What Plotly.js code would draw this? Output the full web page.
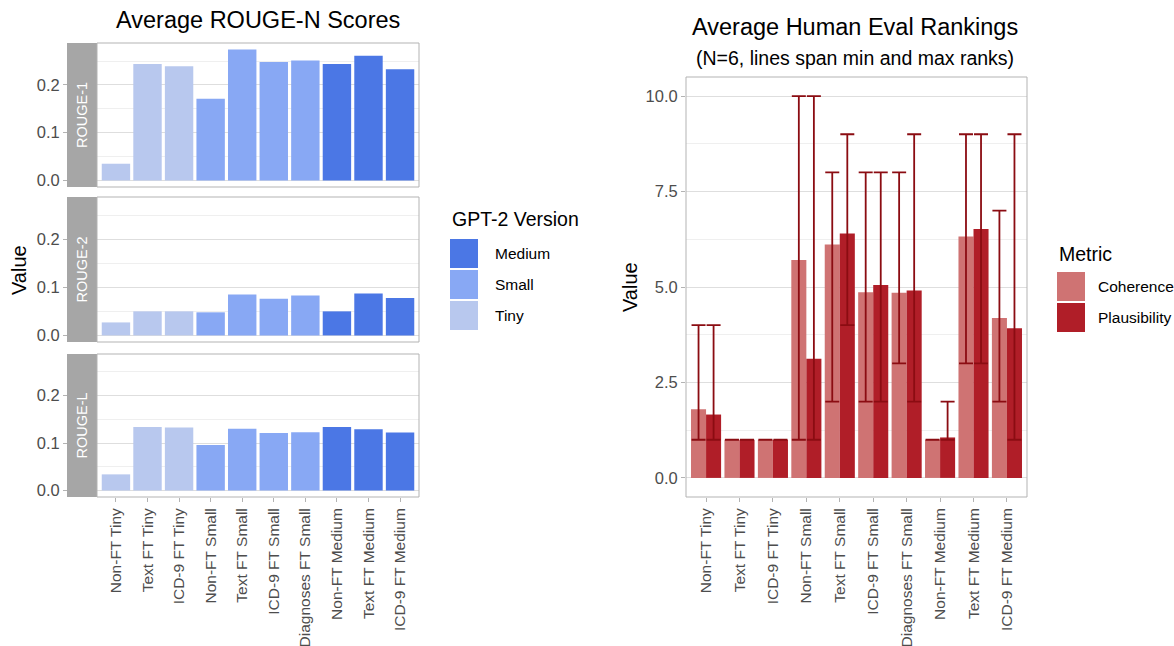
<!DOCTYPE html>
<html>
<head>
<meta charset="utf-8">
<script src="https://cdn.plot.ly/plotly-3.0.1.min.js"></script>
<style>html,body{margin:0;padding:0;background:#fff;}#chart{width:1174px;height:646px;}</style>
</head>
<body>
<div id="chart"></div>
<script>
// ---------------- data ----------------
const categories = ['Non-FT Tiny','Text FT Tiny','ICD-9 FT Tiny','Non-FT Small','Text FT Small','ICD-9 FT Small','Diagnoses FT Small','Non-FT Medium','Text FT Medium','ICD-9 FT Medium'];
const versions = ['Tiny','Tiny','Tiny','Small','Small','Small','Small','Medium','Medium','Medium'];
const versionOrder = ['Medium','Small','Tiny'];
const facetNames = ['ROUGE-1','ROUGE-2','ROUGE-L'];
const rouge1 = [0.035,0.244,0.239,0.171,0.274,0.248,0.251,0.244,0.261,0.233];
const rouge2 = [0.027,0.050,0.050,0.048,0.085,0.076,0.083,0.050,0.087,0.078];
const rougeL = [0.034,0.134,0.133,0.096,0.130,0.121,0.123,0.134,0.129,0.122];

const metrics = ['Coherence','Plausibility'];
const coherence    = [1.80,1.00,1.00,5.71,6.11,4.86,4.85,1.00,6.32,4.19];
const coherenceMin = [1,1,1,1,2,2,3,1,3,2];
const coherenceMax = [4,1,1,10,8,8,8,1,9,7];
const plausibility    = [1.66,1.00,1.00,3.12,6.40,5.05,4.91,1.06,6.52,3.92];
const plausibilityMin = [1,1,1,1,4,2,2,1,3,1];
const plausibilityMax = [4,1,1,10,9,8,9,2,9,9];

// ---------------- styles ----------------
const versionColors = {Tiny:'#b8c8ee', Small:'#88a8f4', Medium:'#4b77e5'};
const metricColors = {Coherence:'#cf7373', Plausibility:'#b01e28'};
const errColor = '#8b0c12';
const W = 1174, H = 646;
const px = x => x / W;
const py = y => 1 - y / H;
const FONT = 'Liberation Sans, Arial, sans-serif';
const tickFont = {family: FONT, size: 16.5, color: '#4d4d4d'};
const xTickFont = {family: FONT, size: 15.5, color: '#4d4d4d'};
const borderColor = '#b3b3b3';
const gridMajor = '#dedede';
const gridMinor = '#efefef';

// left panels pixel geometry
const leftX = [97, 419];
const stripX = [67, 97];
const panelsY = [[43,187],[197,342],[354,497]];
const rightX = [686, 1027];
const rightY = [77, 497];

const rougeSeries = [rouge1, rouge2, rougeL];
const traces = [];
rougeSeries.forEach((vals, i) => {
  traces.push({
    type: 'bar',
    x: categories,
    y: vals,
    xaxis: 'x',
    yaxis: i === 0 ? 'y' : 'y' + (i + 1),
    marker: {color: versions.map(v => versionColors[v]), line: {width: 0}},
    showlegend: false,
    hoverinfo: 'x+y'
  });
});

function errTrace(name, vals, mins, maxs) {
  return {
    type: 'bar', name: name,
    x: categories, y: vals,
    xaxis: 'x4', yaxis: 'y4',
    marker: {color: metricColors[name], line: {width: 0}},
    error_y: {
      type: 'data', symmetric: false,
      array: maxs.map((m, i) => m - vals[i]),
      arrayminus: mins.map((m, i) => vals[i] - m),
      color: errColor, thickness: 1.8, width: 7
    },
    showlegend: false
  };
}
traces.push(errTrace('Coherence', coherence, coherenceMin, coherenceMax));
traces.push(errTrace('Plausibility', plausibility, plausibilityMin, plausibilityMax));

function leftY(i) {
  return {
    domain: [py(panelsY[i][1]), py(panelsY[i][0])],
    range: [-0.0137, 0.2877],
    anchor: 'free', position: px(stripX[0]),
    dtick: 0.1, tick0: 0, tickformat: '.1f',
    ticks: 'outside', ticklen: 4, tickcolor: borderColor, tickwidth: 1,
    tickfont: tickFont,
    showgrid: true, gridcolor: gridMajor, gridwidth: 1,
    minor: {dtick: 0.05, tick0: 0, showgrid: true, gridcolor: gridMinor, gridwidth: 1, ticks: ''},
    zeroline: false, showline: false, fixedrange: true
  };
}

const shapes = [];
const annotations = [];
panelsY.forEach((yy, i) => {
  shapes.push({type:'rect', xref:'paper', yref:'paper', x0:px(stripX[0]), x1:px(stripX[1]), y0:py(yy[1]), y1:py(yy[0]), fillcolor:'#a6a6a6', line:{width:0}, layer:'above'});
  shapes.push({type:'rect', xref:'paper', yref:'paper', x0:px(leftX[0]), x1:px(leftX[1]), y0:py(yy[1]), y1:py(yy[0]), fillcolor:'rgba(0,0,0,0)', line:{color:borderColor, width:1}, layer:'above'});
  annotations.push({xref:'paper', yref:'paper', x:px((stripX[0]+stripX[1])/2), y:py((yy[0]+yy[1])/2), text:facetNames[i], textangle:-90, showarrow:false, font:{family:FONT, size:14.5, color:'#ffffff'}, xanchor:'center', yanchor:'middle'});
});
shapes.push({type:'rect', xref:'paper', yref:'paper', x0:px(rightX[0]), x1:px(rightX[1]), y0:py(rightY[1]), y1:py(rightY[0]), fillcolor:'rgba(0,0,0,0)', line:{color:borderColor, width:1}, layer:'above'});

// titles
annotations.push({xref:'paper', yref:'paper', x:px(258), y:py(20), text:'Average ROUGE-N Scores', showarrow:false, font:{family:FONT, size:23.5, color:'#000'}, xanchor:'center', yanchor:'middle'});
annotations.push({xref:'paper', yref:'paper', x:px(855), y:py(27), text:'Average Human Eval Rankings', showarrow:false, font:{family:FONT, size:23.5, color:'#000'}, xanchor:'center', yanchor:'middle'});
annotations.push({xref:'paper', yref:'paper', x:px(855), y:py(58), text:'(N=6, lines span min and max ranks)', showarrow:false, font:{family:FONT, size:19.5, color:'#000'}, xanchor:'center', yanchor:'middle'});
// axis titles
annotations.push({xref:'paper', yref:'paper', x:px(19), y:py(270), text:'Value', textangle:-90, showarrow:false, font:{family:FONT, size:20, color:'#000'}, xanchor:'center', yanchor:'middle'});
annotations.push({xref:'paper', yref:'paper', x:px(630), y:py(287), text:'Value', textangle:-90, showarrow:false, font:{family:FONT, size:20, color:'#000'}, xanchor:'center', yanchor:'middle'});

// legends (drawn manually to match key size)
function legend(title, names, colors, x, labelOff, titleY, keyTop, keyH) {
  annotations.push({xref:'paper', yref:'paper', x:px(x), y:py(titleY), text:title, showarrow:false, font:{family:FONT, size:19.5, color:'#000'}, xanchor:'left', yanchor:'middle'});
  names.forEach((n, i) => {
    const y0 = keyTop + i * (keyH + 2);
    shapes.push({type:'rect', xref:'paper', yref:'paper', x0:px(x), x1:px(x + 28), y0:py(y0 + keyH), y1:py(y0), fillcolor:colors[n], line:{width:0}});
    annotations.push({xref:'paper', yref:'paper', x:px(x + labelOff), y:py(y0 + keyH/2), text:n, showarrow:false, font:{family:FONT, size:15.5, color:'#000'}, xanchor:'left', yanchor:'middle'});
  });
}
legend('GPT-2 Version', versionOrder, versionColors, 450, 43, 219, 239, 29);
legend('Metric', metrics, metricColors, 1057, 39, 254, 272, 29);

const xCommon = {
  type: 'category', range: [-0.6, 9.6],
  ticks: 'outside', ticklen: 4, tickcolor: borderColor, tickwidth: 1,
  tickangle: -90, tickfont: xTickFont,
  showgrid: false, zeroline: false, showline: false, fixedrange: true
};

const layout = {
  width: W, height: H,
  margin: {l:0, r:0, t:0, b:0},
  paper_bgcolor: '#ffffff', plot_bgcolor: '#ffffff',
  font: {family: FONT},
  showlegend: false,
  barmode: 'group', bargap: 0.1, bargroupgap: 0,
  xaxis: Object.assign({}, xCommon, {domain: [px(leftX[0]), px(leftX[1])], anchor: 'y3'}),
  yaxis: leftY(0),
  yaxis2: leftY(1),
  yaxis3: leftY(2),
  xaxis4: Object.assign({}, xCommon, {domain: [px(rightX[0]), px(rightX[1])], anchor: 'y4'}),
  yaxis4: {
    domain: [py(rightY[1]), py(rightY[0])],
    range: [-0.5, 10.5], anchor: 'x4',
    dtick: 2.5, tick0: 0, tickformat: '.1f',
    ticks: 'outside', ticklen: 4, tickcolor: borderColor, tickwidth: 1,
    tickfont: tickFont,
    showgrid: true, gridcolor: gridMajor, gridwidth: 1,
    minor: {dtick: 1.25, tick0: 0, showgrid: true, gridcolor: gridMinor, gridwidth: 1, ticks: ''},
    zeroline: false, showline: false, fixedrange: true
  },
  shapes: shapes,
  annotations: annotations
};

Plotly.newPlot('chart', traces, layout, {displayModeBar: false, staticPlot: true});
</script>
</body>
</html>
